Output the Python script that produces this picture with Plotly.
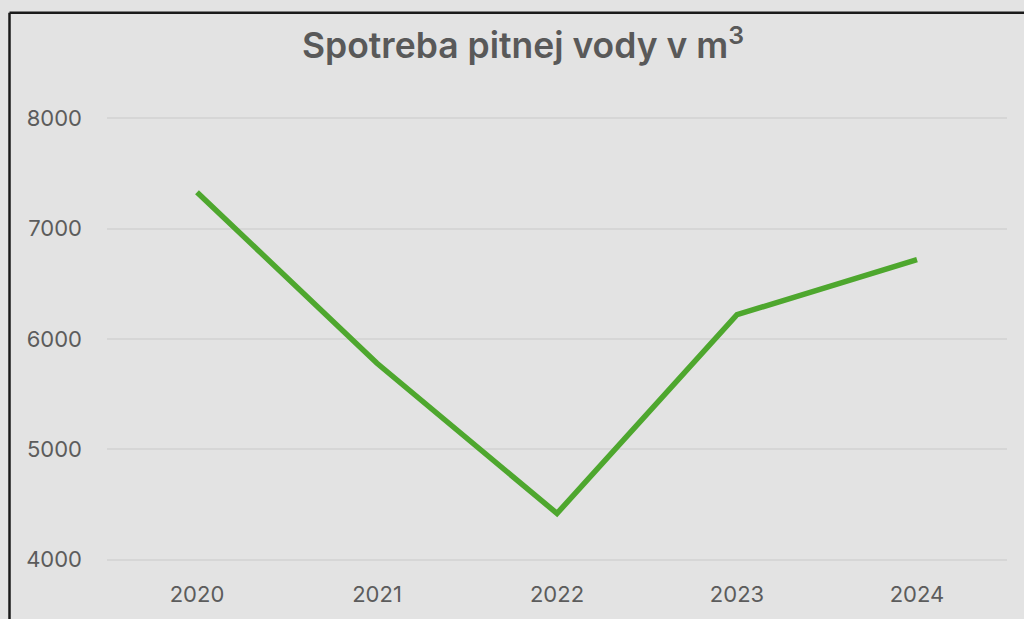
import plotly.graph_objects as go

years = ["2020", "2021", "2022", "2023", "2024"]
consumption = [7330, 5780, 4420, 6220, 6720]
y_ticks = [4000, 5000, 6000, 7000, 8000]

BG = "#e3e3e3"
TXT = "#595959"
FONT = "Inter"

fig = go.Figure()
fig.add_trace(go.Scatter(
    x=years, y=consumption, mode="lines",
    line=dict(color="#4ea72e", width=5.5),
    hoverinfo="x+y",
))

# data area: 8000 at y=118, 4000 at y=560; x 107..1007
left_px, right_px = 107, 1007
y_lo, y_hi = 3980, 8020
ppu = (560 - 118) / 4000
top_px = 118 - (y_hi - 8000) * ppu
bottom_px = 560 + (4000 - y_lo) * ppu
pw = right_px - left_px
ph = bottom_px - top_px
bx = (9.5 - left_px) / pw
by = (bottom_px - 12.5) / ph

fig.update_layout(
    width=1024, height=619,
    margin=dict(l=left_px, r=1024 - right_px, t=top_px, b=619 - bottom_px, autoexpand=False),
    paper_bgcolor=BG, plot_bgcolor=BG,
    showlegend=False,
    font=dict(family=FONT, color=TXT, size=22),
    title=dict(
        text="Spotreba pitnej vody v m<sup>3</sup>",
        x=523 / 1024, xref="container", xanchor="center",
        y=1 - 46 / 619, yref="container", yanchor="middle",
        font=dict(family=FONT, size=35.5, color=TXT, weight=600),
    ),
    xaxis=dict(
        type="category", range=[-0.5, 4.5],
        showgrid=False, zeroline=False, showline=False,
        ticks="", tickfont=dict(size=22, color="#5c5c5c"), ticklabelstandoff=17,
    ),
    yaxis=dict(
        range=[y_lo, y_hi], tickvals=y_ticks,
        showgrid=True, gridcolor="#d6d6d6", gridwidth=1.5,
        zeroline=False, showline=False, ticks="",
        tickfont=dict(size=22, color="#5c5c5c"), ticklabelstandoff=24,
    ),
    shapes=[
        dict(type="line", xref="paper", yref="paper", x0=bx, x1=bx, y0=-0.5, y1=by,
             line=dict(color="#1a1a1a", width=2.5)),
        dict(type="line", xref="paper", yref="paper", x0=bx, x1=1.2, y0=by, y1=by,
             line=dict(color="#1a1a1a", width=2.5)),
    ],
)

fig.write_html(
    "out.html",
    config={"displayModeBar": False},
    post_script="document.body.style.margin='0';document.body.style.background='#e3e3e3';",
)
